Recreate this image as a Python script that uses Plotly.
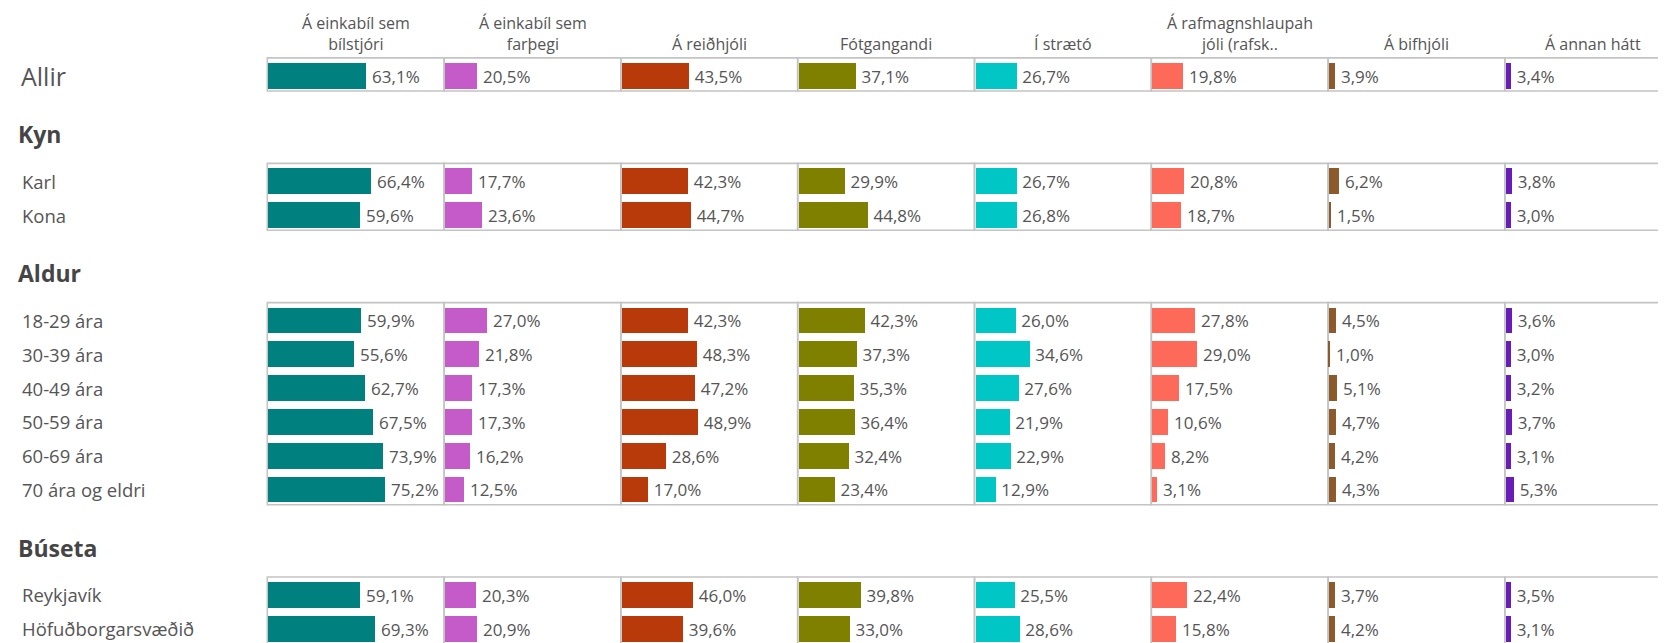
import plotly.graph_objects as go

# ---------------- data ----------------
columns = ["Á einkabíl sem<br>bílstjóri", "Á einkabíl sem<br>farþegi", "Á reiðhjóli", "Fótgangandi",
           "Í strætó", "Á rafmagnshlaupah<br>jóli (rafsk..", "Á bifhjóli", "Á annan hátt"]
colors = ["#00807f", "#c45bc8", "#b8390a", "#808000", "#00c7c5", "#fe6a5a", "#8d5a2c", "#6a1cb9"]

group_names = ["", "Kyn", "Aldur", "Búseta"]
group_rows = [
    ["Allir"],
    ["Karl", "Kona"],
    ["18-29 ára", "30-39 ára", "40-49 ára", "50-59 ára", "60-69 ára", "70 ára og eldri"],
    ["Reykjavík", "Höfuðborgarsvæðið"],
]

bilstjori = [63.1, 66.4, 59.6, 59.9, 55.6, 62.7, 67.5, 73.9, 75.2, 59.1, 69.3]
farthegi = [20.5, 17.7, 23.6, 27.0, 21.8, 17.3, 17.3, 16.2, 12.5, 20.3, 20.9]
reidhjol = [43.5, 42.3, 44.7, 42.3, 48.3, 47.2, 48.9, 28.6, 17.0, 46.0, 39.6]
fotgangandi = [37.1, 29.9, 44.8, 42.3, 37.3, 35.3, 36.4, 32.4, 23.4, 39.8, 33.0]
straeto = [26.7, 26.7, 26.8, 26.0, 34.6, 27.6, 21.9, 22.9, 12.9, 25.5, 28.6]
rafskuta = [19.8, 20.8, 18.7, 27.8, 29.0, 17.5, 10.6, 8.2, 3.1, 22.4, 15.8]
bifhjol = [3.9, 6.2, 1.5, 4.5, 1.0, 5.1, 4.7, 4.2, 4.3, 3.7, 4.2]
annad = [3.4, 3.8, 3.0, 3.6, 3.0, 3.2, 3.7, 3.1, 5.3, 3.5, 3.1]
series = [bilstjori, farthegi, reidhjol, fotgangandi, straeto, rafskuta, bifhjol, annad]

# ---------------- layout helpers ----------------
COL_W = 176.8         # px per column
LEFT = 259.3          # px where first column starts (figure coords)
W = int(round(LEFT + COL_W * len(columns)))
H = 643
PITCH = 33.8          # px per row
Y0_PX = 67.8          # px of first row center (figure coords)
GROUP_GAP = 3.12      # rows between last row of a group and first row of next
HEADER_OFF = 1.72     # header position after last row of previous group

row_pos, row_labels, header_pos, spans = [], [], [], []
cur = 0.0
last = 0.0
for gi, rows in enumerate(group_rows):
    if gi > 0:
        header_pos.append(last + HEADER_OFF)
        cur = last + GROUP_GAP
    start = cur
    for r in rows:
        row_pos.append(cur)
        row_labels.append(r)
        cur += 1
    last = cur - 1
    spans.append((start, last))

y_top = -Y0_PX / PITCH
y_bot = (H - Y0_PX) / PITCH

X_MIN, X_SPAN = -0.6, 114.0
font = "Open Sans, Lato, DejaVu Sans, sans-serif"
TXT = "#555555"

fig = go.Figure()
for i, (vals, col) in enumerate(zip(series, colors)):
    ax = "" if i == 0 else str(i + 1)
    fig.add_trace(go.Bar(
        x=vals, y=row_pos, orientation="h", width=0.76,
        marker=dict(color=col, line=dict(width=0)),
        texttemplate="\u2009%{x:.1f}%", textposition="outside", cliponaxis=False,
        constraintext="none",
        textfont=dict(size=17, color=TXT, family=font),
        xaxis="x" + ax, yaxis="y", showlegend=False, hoverinfo="skip",
    ))
    d0 = (LEFT + i * COL_W) / W
    d1 = min((LEFT + (i + 1) * COL_W) / W, 1.0)
    fig.layout["xaxis" + ax] = dict(domain=[d0, d1], range=[X_MIN, X_MIN + X_SPAN], visible=False,
                                    fixedrange=True, anchor="y")
    # column header
    fig.add_annotation(text=columns[i], xref="x" + ax + " domain", x=0.5, xanchor="center",
                       yref="y", y=-0.56, yanchor="bottom", showarrow=False,
                       font=dict(size=16, color=TXT, family=font))
    # panel boxes
    for (s, e) in spans:
        fig.add_shape(type="rect", xref="x" + ax + " domain", x0=0, x1=1,
                      yref="y", y0=s - 0.53, y1=e + 0.45,
                      line=dict(color="#c4c4c4", width=1.6), fillcolor="rgba(0,0,0,0)", layer="below")

fig.update_layout(yaxis=dict(range=[y_bot, y_top], visible=False, fixedrange=True))

# row labels
for y, lab in zip(row_pos, row_labels):
    big = lab == "Allir"
    fig.add_annotation(text=lab, xref="paper", x=(11 if big else 12) / W, xanchor="left",
                       yref="y", y=y, yanchor="middle", showarrow=False,
                       font=dict(size=25 if big else 18.5, color=TXT, family=font))
# group headers
for y, name in zip(header_pos, group_names[1:]):
    fig.add_annotation(text="<b>" + name + "</b>", xref="paper", x=8 / W, xanchor="left",
                       yref="y", y=y, yanchor="middle", showarrow=False,
                       font=dict(size=23, color="#454545", family=font))

fig.update_layout(
    width=W, height=H, margin=dict(l=0, r=0, t=0, b=0),
    paper_bgcolor="white", plot_bgcolor="white",
    separators=", ", bargap=0, font=dict(family=font, color=TXT),
)
fig.write_html("out.html")
